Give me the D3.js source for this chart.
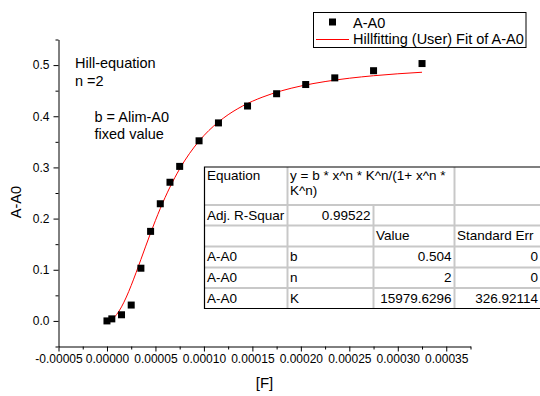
<!DOCTYPE html>
<html>
<head>
<meta charset="utf-8">
<script src="https://cdn.jsdelivr.net/npm/d3@7"></script>
<style>
  html, body { margin: 0; padding: 0; background: #fff; }
  svg { display: block; font-family: "Liberation Sans", Arial, sans-serif; }
</style>
</head>
<body>
<svg id="chart" width="540" height="396"></svg>
<script>
// measured points A-A0 vs [F]
const concF = [0, 5e-6, 15e-6, 25e-6, 35e-6, 45e-6, 55e-6, 65e-6, 75e-6, 95e-6, 115e-6, 145e-6, 175e-6, 205e-6, 235e-6, 275e-6, 325e-6];
const deltaA = [0.000, 0.004, 0.012, 0.031, 0.103, 0.175, 0.229, 0.271, 0.302, 0.352, 0.387, 0.420, 0.444, 0.462, 0.475, 0.489, 0.503];

// Hill fit curve
const fitF = [0, 5e-6, 10e-6, 15e-6, 20e-6, 25e-6, 30e-6, 35e-6, 40e-6, 45e-6, 50e-6, 55e-6, 60e-6, 70e-6, 80e-6, 90e-6, 100e-6, 120e-6, 140e-6, 160e-6, 180e-6, 200e-6, 225e-6, 250e-6, 275e-6, 300e-6, 325e-6];
const fitA = [0, 0.0032, 0.0126, 0.0274, 0.0467, 0.0694, 0.0942, 0.1201, 0.1462, 0.1718, 0.1964, 0.2197, 0.2414, 0.2801, 0.3127, 0.3397, 0.3622, 0.3962, 0.4201, 0.4371, 0.4497, 0.4591, 0.4678, 0.4743, 0.4792, 0.4830, 0.4860];

const xTicks = [-0.00005, 0, 0.00005, 0.00010, 0.00015, 0.00020, 0.00025, 0.00030, 0.00035];
const xMinor = [-0.000025, 0.000025, 0.000075, 0.000125, 0.000175, 0.000225, 0.000275, 0.000325, 0.000375];
const yTicks = [0, 0.1, 0.2, 0.3, 0.4, 0.5];
const yMinor = [-0.05, 0.05, 0.15, 0.25, 0.35, 0.45, 0.55];

const notes = ["Hill-equation", "n =2", "b = Alim-A0", "fixed value"];
const legendLabels = ["A-A0", "Hillfitting (User) Fit of A-A0"];

// fit results table
const tableRows = [
  ["Equation", "y = b * x^n * K^n/(1+ x^n *|K^n)", "", ""],
  ["Adj. R-Squar", "0.99522", "", ""],
  ["", "", "Value", "Standard Err"],
  ["A-A0", "b", "0.504", "0"],
  ["A-A0", "n", "2", "0"],
  ["A-A0", "K", "15979.6296", "326.92114"]
];

const svg = d3.select('#chart');

const x = d3.scaleLinear().domain([-0.00005, 0.000375]).range([58.5, 470.5]);
const y = d3.scaleLinear().domain([-0.05, 0.55]).range([346.5, 39.5]);

// ==================== AXES ====================
const fmtX = d => d.toFixed(5);
const fmtY = d => d.toFixed(1);

const xAxisG = svg.append('g')
  .attr('transform', `translate(0,${y(-0.05)})`)
  .call(d3.axisBottom(x).tickValues(xTicks).tickFormat(fmtX).tickSize(5).tickSizeOuter(0).tickPadding(3));
svg.append('g')
  .attr('transform', `translate(0,${y(-0.05)})`)
  .call(d3.axisBottom(x).tickValues(xMinor).tickFormat('').tickSize(3))
  .call(g => g.select('.domain').remove());

const yAxisG = svg.append('g')
  .attr('transform', `translate(${x(-0.00005)},0)`)
  .call(d3.axisLeft(y).tickValues(yTicks).tickFormat(fmtY).tickSize(5).tickSizeOuter(0).tickPadding(4));
svg.append('g')
  .attr('transform', `translate(${x(-0.00005)},0)`)
  .call(d3.axisLeft(y).tickValues(yMinor).tickFormat('').tickSize(3))
  .call(g => g.select('.domain').remove());

svg.selectAll('.tick text')
  .attr('font-family', '"Liberation Sans", Arial, sans-serif')
  .attr('font-size', 12)
  .attr('fill', '#000');
svg.selectAll('.domain, .tick line').attr('stroke', '#000');

svg.append('text')
  .attr('x', (x.range()[0] + x.range()[1]) / 2)
  .attr('y', 388)
  .attr('text-anchor', 'middle')
  .attr('font-size', 15)
  .text('[F]');

svg.append('text')
  .attr('transform', 'translate(21,202) rotate(-90)')
  .attr('text-anchor', 'middle')
  .attr('font-size', 14.5)
  .text('A-A0');

// ==================== FIT CURVE ====================
const line = d3.line()
  .x((d, i) => x(fitF[i]))
  .y(d => y(d))
  .curve(d3.curveMonotoneX);

svg.append('path')
  .datum(fitA)
  .attr('d', line)
  .attr('fill', 'none')
  .attr('stroke', '#ff0000')
  .attr('stroke-width', 1);

// ==================== DATA POINTS ====================
const sq = 7;
svg.append('g')
  .selectAll('rect')
  .data(deltaA)
  .enter()
  .append('rect')
  .attr('x', (d, i) => x(concF[i]) - sq / 2)
  .attr('y', d => y(d) - sq / 2)
  .attr('width', sq)
  .attr('height', sq)
  .attr('fill', '#000');

// ==================== NOTES ====================
const notePos = [[75, 67.5], [75, 86], [94.5, 121.5], [94.5, 138.5]];
svg.append('g')
  .selectAll('text')
  .data(notes)
  .enter()
  .append('text')
  .attr('x', (d, i) => notePos[i][0])
  .attr('y', (d, i) => notePos[i][1])
  .attr('font-size', 14.5)
  .text(d => d);

// ==================== LEGEND ====================
const lg = svg.append('g');
lg.append('rect')
  .attr('x', 313.5).attr('y', 12.5)
  .attr('width', 212.5).attr('height', 35)
  .attr('fill', '#fff')
  .attr('stroke', '#000')
  .attr('stroke-width', 1);
lg.append('rect')
  .attr('x', 332.5 - sq / 2).attr('y', 22 - sq / 2)
  .attr('width', sq).attr('height', sq)
  .attr('fill', '#000');
lg.append('line')
  .attr('x1', 316).attr('x2', 349)
  .attr('y1', 39.5).attr('y2', 39.5)
  .attr('stroke', '#ff0000');
lg.selectAll('text.lbl')
  .data(legendLabels)
  .enter()
  .append('text')
  .attr('class', 'lbl')
  .attr('x', 353)
  .attr('y', (d, i) => i === 0 ? 27.5 : 44)
  .attr('font-size', 14.5)
  .text(d => d);

// ==================== TABLE ====================
const colX = [204.5, 287.5, 373.5, 454.5, 541];
const rowY = [167, 205, 225.5, 246.5, 267.5, 288, 308.5];
const tg = svg.append('g').attr('font-size', 13.5);

tg.append('rect')
  .attr('x', colX[0]).attr('y', rowY[0])
  .attr('width', colX[4] - colX[0]).attr('height', rowY[6] - rowY[0])
  .attr('fill', '#fff');

const grid = '#c8c8c8';
// horizontal inner lines
tg.selectAll('line.h')
  .data(rowY.slice(1, 6))
  .enter()
  .append('line')
  .attr('x1', colX[0]).attr('x2', colX[4])
  .attr('y1', d => d).attr('y2', d => d)
  .attr('stroke', grid).attr('stroke-width', 2);
// vertical inner lines
const vLines = [[colX[1], rowY[0], rowY[6]], [colX[2], rowY[1], rowY[6]], [colX[3], rowY[0], rowY[6]]];
tg.selectAll('line.v')
  .data(vLines)
  .enter()
  .append('line')
  .attr('x1', d => d[0]).attr('x2', d => d[0])
  .attr('y1', d => d[1]).attr('y2', d => d[2])
  .attr('stroke', grid).attr('stroke-width', 2);
// outer border
tg.append('path')
  .attr('d', `M${colX[4]},${rowY[0]}H${colX[0]}V${rowY[6]}H${colX[4]}`)
  .attr('fill', 'none')
  .attr('stroke', '#000')
  .attr('stroke-width', 1.2);

const rightAligned = (r, c) => r !== 2 && c >= 1 && !(r === 0) && !(r >= 3 && c === 1);
tableRows.forEach((row, r) => {
  row.forEach((cell, c) => {
    if (!cell) return;
    const lines = cell.split('|');
    const right = rightAligned(r, c);
    const t = tg.append('text')
      .attr('x', right ? colX[c + 1] - 3 : colX[c] + 2.5)
      .attr('text-anchor', right ? 'end' : 'start');
    if (r === 0) {
      lines.forEach((ln, k) => {
        t.append('tspan')
          .attr('x', colX[c] + 2.5)
          .attr('y', rowY[0] + 12.5 + k * 15)
          .text(ln);
      });
    } else {
      t.attr('y', rowY[r] + 14.8).text(cell);
    }
  });
});
</script>
</body>
</html>
